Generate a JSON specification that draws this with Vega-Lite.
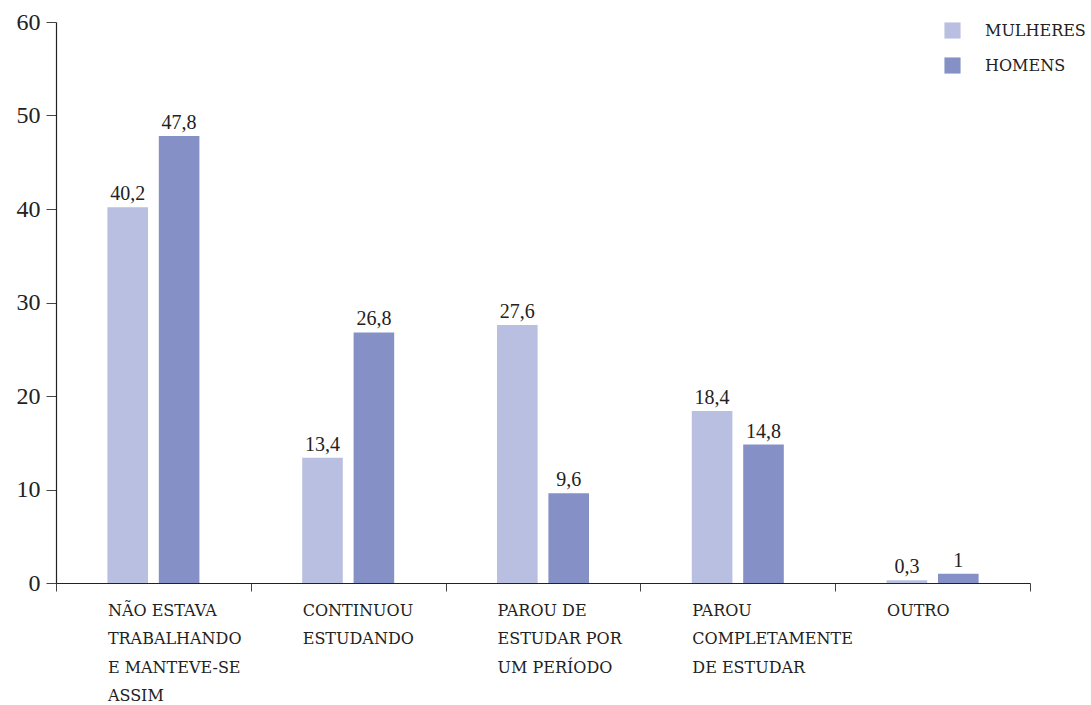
{
  "$schema": "https://vega.github.io/schema/vega-lite/v6.json",
  "width": 974,
  "height": 561,
  "autosize": {"type": "none"},
  "padding": {"left": 56, "top": 22, "right": 61, "bottom": 122},
  "background": "white",
  "data": {"values": [
    {"categoria": "Não estava|trabalhando|e manteve-se|assim", "sexo": "Mulheres", "valor": 40.2},
    {"categoria": "Não estava|trabalhando|e manteve-se|assim", "sexo": "Homens", "valor": 47.8},
    {"categoria": "Continuou|estudando", "sexo": "Mulheres", "valor": 13.4},
    {"categoria": "Continuou|estudando", "sexo": "Homens", "valor": 26.8},
    {"categoria": "Parou de|estudar por|um período", "sexo": "Mulheres", "valor": 27.6},
    {"categoria": "Parou de|estudar por|um período", "sexo": "Homens", "valor": 9.6},
    {"categoria": "Parou|completamente|de estudar", "sexo": "Mulheres", "valor": 18.4},
    {"categoria": "Parou|completamente|de estudar", "sexo": "Homens", "valor": 14.8},
    {"categoria": "Outro", "sexo": "Mulheres", "valor": 0.3},
    {"categoria": "Outro", "sexo": "Homens", "valor": 1}
  ]},
  "encoding": {
    "x": {
      "field": "categoria", "type": "nominal", "sort": null,
      "scale": {"paddingInner": 0, "paddingOuter": 0},
      "axis": {
        "title": null, "labelAngle": 0, "labelAlign": "left", "labelBaseline": "top",
        "labelOffset": -46, "labelPadding": 11,
        "labelExpr": "split(upper(datum.label), '|')",
        "labelFont": "DejaVu Serif", "labelFontSize": 16, "labelColor": "#222",
        "labelLineHeight": 28.5,
        "tickBand": "extent", "tickSize": 8, "tickColor": "#444",
        "domainColor": "#222", "domainWidth": 1.2
      }
    },
    "xOffset": {"field": "sexo", "type": "nominal", "sort": ["Mulheres", "Homens"],
      "scale": {"paddingInner": 0.21, "paddingOuter": 1.15}},
    "y": {
      "field": "valor", "type": "quantitative",
      "scale": {"domain": [0, 60], "nice": false},
      "axis": {
        "title": null, "values": [0, 10, 20, 30, 40, 50, 60], "grid": false,
        "labelFont": "Liberation Serif", "labelFontSize": 24, "labelColor": "#222",
        "labelPadding": 6, "tickSize": 10, "tickColor": "#444",
        "domainColor": "#222", "domainWidth": 1.2
      }
    }
  },
  "layer": [
    {
      "mark": {"type": "bar"},
      "encoding": {
        "color": {
          "field": "sexo", "type": "nominal", "sort": ["Mulheres", "Homens"],
          "scale": {"domain": ["Mulheres", "Homens"], "range": ["#b9bfe0", "#8590c6"]},
          "legend": {
            "title": null, "orient": "none", "legendX": 888, "legendY": 0,
            "symbolType": "square", "symbolSize": 260, "symbolStrokeWidth": 0,
            "labelExpr": "upper(datum.label)",
            "labelFont": "DejaVu Serif", "labelFontSize": 16, "labelColor": "#222",
            "labelOffset": 24, "rowPadding": 18
          }
        }
      }
    },
    {
      "mark": {"type": "text", "baseline": "bottom", "dy": -3, "font": "Liberation Serif", "fontSize": 20, "color": "#222"},
      "encoding": {
        "text": {"field": "valor", "type": "quantitative", "format": ".3~g"}
      }
    }
  ],
  "config": {
    "view": {"stroke": null},
    "locale": {"number": {"decimal": ",", "thousands": ".", "grouping": [3], "currency": ["R$", ""]}}
  }
}
